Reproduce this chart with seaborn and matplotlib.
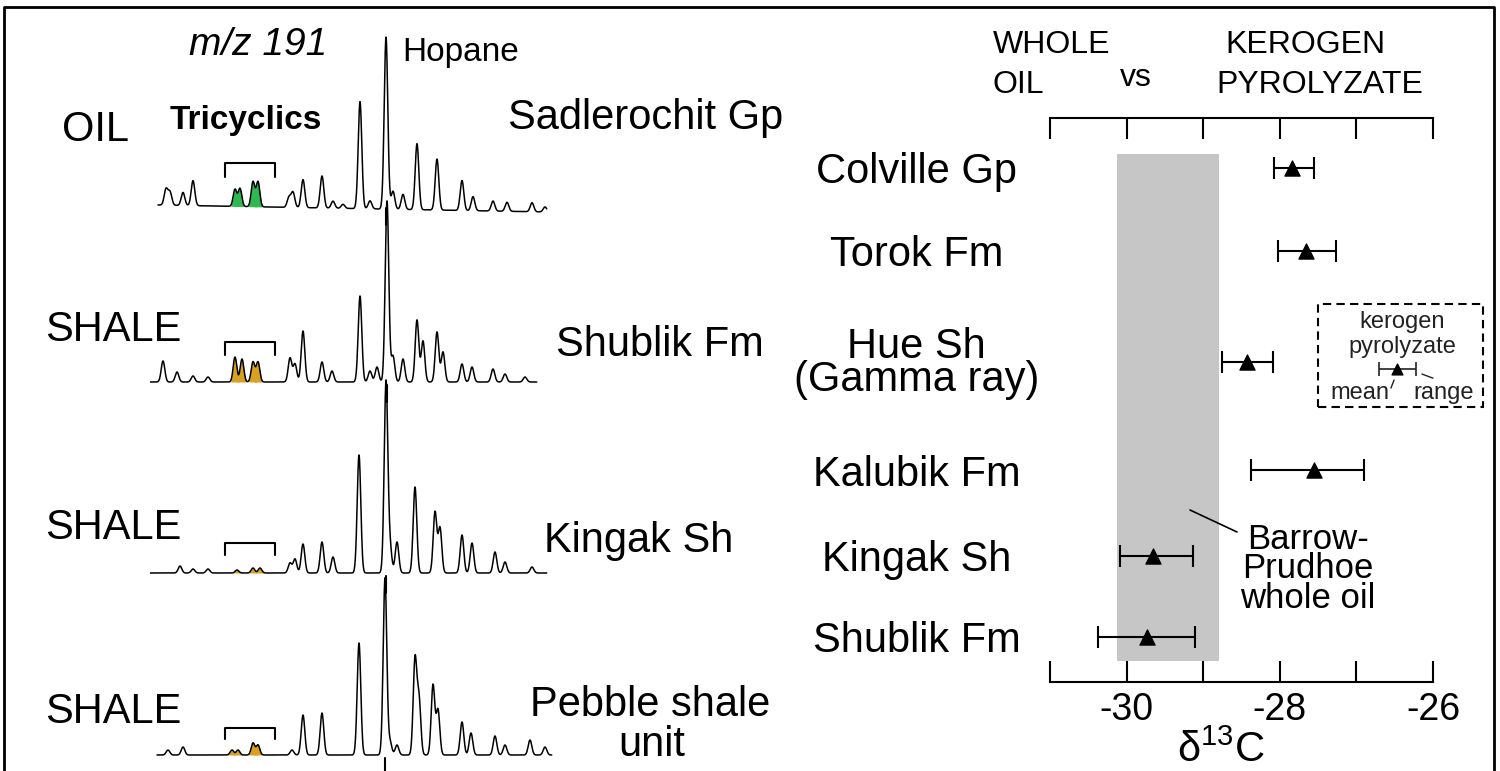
import numpy as np
import pandas as pd
import matplotlib
matplotlib.use("Agg")
import matplotlib.pyplot as plt
import seaborn as sns
from matplotlib.patches import Rectangle
from matplotlib.lines import Line2D

# m/z 191 traces: peak retention (arbitrary units) and height above baseline
oil_rt = [16, 20, 33, 43, 139, 143, 153, 172, 183, 193, 210, 220, 236, 243, 253, 267, 287, 312, 323, 343, 357, 382, 395]
oil_h = [16, 13, 13, 25, 10, 15, 28, 32, 7, 4, 107, 8, 172, 18, 15, 66, 51, 30, 14, 10, 9, 9, 5]
oil_tri_rt = [85, 90, 103, 108]
oil_tri_h = [17, 18, 25, 25]

shublik_rt = [13, 27, 43, 58, 140, 145, 153, 172, 182, 210, 220, 227, 237, 243, 253, 267, 273, 287, 293, 312, 322, 343, 355, 375]
shublik_h = [21, 10, 6, 5, 24, 18, 51, 20, 11, 86, 11, 15, 181, 26, 23, 62, 41, 50, 30, 18, 15, 13, 8, 5]
shublik_tri_rt = [85, 92, 103, 108]
shublik_tri_h = [25, 23, 20, 20]

kingak_rt = [30, 43, 58, 140, 145, 153, 172, 183, 209, 236, 240, 247, 265, 285, 290, 312, 322, 345, 355, 382]
kingak_h = [7, 4, 4, 10, 14, 29, 31, 16, 118, 191, 25, 31, 86, 61, 45, 38, 30, 21, 11, 6]
kingak_tri_rt = [87, 103, 110]
kingak_tri_h = [3, 5, 5]

pebble_rt = [18, 33, 142, 153, 172, 209, 235, 240, 247, 265, 269, 283, 288, 312, 321, 345, 355, 380, 395]
pebble_h = [5, 8, 5, 40, 42, 112, 177, 13, 10, 95, 55, 70, 45, 33, 22, 19, 10, 15, 8]
pebble_tri_rt = [82, 88, 103, 108]
pebble_tri_h = [5, 5, 12, 10]

# kerogen pyrolyzate d13C: mean and range
units = ["Colville Gp", "Torok Fm", "Hue Sh\n(Gamma ray)", "Kalubik Fm", "Kingak Sh", "Shublik Fm"]
d13c_mean = [-27.84, -27.66, -28.43, -27.56, -29.65, -29.74]
d13c_lo = [-28.08, -28.03, -28.76, -28.38, -30.09, -30.37]
d13c_hi = [-27.56, -27.27, -28.09, -26.90, -29.13, -29.11]
oil_band = (-30.13, -28.80)

W, H = 1500, 771

sns.set_theme(style="white")
plt.rcParams["font.family"] = ["Liberation Sans", "DejaVu Sans"]
plt.rcParams["mathtext.fontset"] = "custom"
plt.rcParams["mathtext.rm"] = "Liberation Sans"
plt.rcParams["mathtext.it"] = "Liberation Sans:italic"
for key in ["text.color", "axes.labelcolor", "xtick.color", "ytick.color"]:
    plt.rcParams[key] = "black"


def px_box(x0, y0, x1, y1):
    return [x0 / W, 1 - y1 / H, (x1 - x0) / W, (y1 - y0) / H]


def ftext(x, y, s, **kw):
    kw.setdefault("va", "center")
    kw.setdefault("color", "black")
    fig.text(x / W, 1 - y / H, s, **kw)


def trace(rt, h, start, end, drift=(0, 0), sigma=1.8):
    x = np.arange(start, end, 0.25)
    base = np.interp(x, [start, end], drift)
    y = base.copy()
    for p, a in zip(rt, h):
        y += a * np.exp(-0.5 * ((x - p) / sigma) ** 2)
    return x, y, base


fig = plt.figure(figsize=(15, 7.71), dpi=100)

# ---- left: chromatograms ----
traces = [
    (oil_rt, oil_h, oil_tri_rt, oil_tri_h, 205, 8, 397, (0, -7), "#2fb84f", 42, 28),
    (shublik_rt, shublik_h, shublik_tri_rt, shublik_tri_h, 382, 0, 387, (0, 0), "#d9a021", 40, 27),
    (kingak_rt, kingak_h, kingak_tri_rt, kingak_tri_h, 573, 0, 397, (0, 0), "#d9a021", 30, 18),
    (pebble_rt, pebble_h, pebble_tri_rt, pebble_tri_h, 755, 7, 402, (0, 0), "#d9a021", 27, 16),
]
for rt, h, trt, th, b, x0, x1, drift, col, br_top, br_end in traces:
    tax = fig.add_axes(px_box(150, b - 200, 560, b + 25))
    tax.set_xlim(0, 410)
    tax.set_ylim(-25, 200)
    tax.axis("off")
    tax.patch.set_alpha(0)
    x, y, base = trace(rt + trt, h + th, x0, x1, drift)
    for p in trt:
        m = (x > p - 4.5) & (x < p + 4.5)
        tax.fill_between(x[m], base[m], y[m], color=col, lw=0)
    df = pd.DataFrame({"rt": x, "signal": y})
    sns.lineplot(data=df, x="rt", y="signal", ax=tax, color="black", lw=1.1,
                 estimator=None, sort=False)
    # tricyclics bracket
    tax.plot([75, 75, 125, 125], [br_end, br_top, br_top, br_end], color="black", lw=1.5)
    # hopane marker below baseline
    hop = rt[int(np.argmax(h))]
    tax.plot([hop, hop], [-3, -20], color="black", lw=1.5, clip_on=False)
    tax.set_xlabel("")
    tax.set_ylabel("")

ftext(258, 45, "m/z 191", ha="center", fontsize=28, style="italic")
ftext(402, 53, "Hopane", ha="left", fontsize=24)
ftext(170, 120, "Tricyclics", ha="left", fontsize=24, weight="bold")
ftext(62, 130, "OIL", ha="left", fontsize=30)
ftext(646, 118, "Sadlerochit Gp", ha="center", fontsize=30)
ftext(45, 330, "SHALE", ha="left", fontsize=30)
ftext(660, 345, "Shublik Fm", ha="center", fontsize=30)
ftext(45, 528, "SHALE", ha="left", fontsize=30)
ftext(639, 541, "Kingak Sh", ha="center", fontsize=30)
ftext(45, 712, "SHALE", ha="left", fontsize=30)
ftext(650, 705, "Pebble shale", ha="center", fontsize=30)
ftext(652, 745, "unit", ha="center", fontsize=30)

# ---- right: d13C comparison ----
row_y = [168, 251, 362, 470, 556, 637]
ax = fig.add_axes(px_box(1050, 118, 1433, 682))
ax.patch.set_alpha(0)
ax.set_xlim(-31, -26)
ax.set_ylim(682, 118)
ax.axvspan(oil_band[0], oil_band[1], ymin=(682 - 661) / 564, ymax=(682 - 154) / 564,
           color="#c6c6c6", lw=0, zorder=0)
mean = np.array(d13c_mean)
ax.errorbar(mean, row_y, xerr=[mean - np.array(d13c_lo), np.array(d13c_hi) - mean],
            fmt="none", ecolor="black", elinewidth=1.5, capsize=8, capthick=1.5, zorder=2)
sns.scatterplot(x=mean, y=row_y, ax=ax, marker="^", s=120, color="black",
                edgecolor="black", zorder=3)
ax.set_xticks([-31, -30, -29, -28, -27, -26])
ax.set_xticklabels(["", "-30", "", "-28", "", "-26"])
ax.tick_params(axis="x", direction="in", length=15, width=1.5, top=True, bottom=True,
               labeltop=False, labelsize=27, pad=7, color="black", labelcolor="black")
ax.set_yticks(row_y)
ax.set_yticklabels(units, ha="center", multialignment="center", linespacing=0.8)
ax.tick_params(axis="y", length=0, pad=96, labelsize=30, labelcolor="black")
for side in ["left", "right"]:
    ax.spines[side].set_visible(False)
for side in ["top", "bottom"]:
    ax.spines[side].set_color("black")
    ax.spines[side].set_linewidth(1.5)
ax.set_xlabel(r"δ$^{13}$C", fontsize=30, color="black")
ax.xaxis.set_label_coords((1221 - 1050) / 383, (682 - 731) / 564)
ax.xaxis.label.set_va("top")
ax.set_ylabel("")

fig.add_artist(Line2D([1190 / W, 1237 / W], [1 - 510 / H, 1 - 532 / H], color="black", lw=1.2))
ftext(1308, 569, "Barrow-\nPrudhoe\nwhole oil", ha="center", fontsize=25,
      multialignment="center", linespacing=0.85)

ftext(993, 45, "WHOLE", ha="left", fontsize=23)
ftext(993, 85, "OIL", ha="left", fontsize=23)
ftext(1136, 78, "vs", ha="center", fontsize=23)
ftext(1305, 45, "KEROGEN", ha="center", fontsize=23)
ftext(1320, 85, "PYROLYZATE", ha="center", fontsize=23)

# legend box
lax = fig.add_axes(px_box(1318, 304, 1483, 407))
lax.set_xlim(0, 1)
lax.set_ylim(0, 1)
lax.axis("off")
lax.add_patch(Rectangle((0, 0), 1, 1, fill=False, ls=(0, (4, 2.5)), lw=1.5,
                        ec="black", transform=lax.transAxes, clip_on=False))
lax.errorbar([0.479], [0.37], xerr=[[0.109], [0.115]], fmt="none", ecolor="#222222",
             elinewidth=1.2, capsize=5, capthick=1.2)
lax.scatter([0.479], [0.37], marker="^", s=60, color="black", zorder=3)
lax.text(0.51, 0.825, "kerogen", ha="center", va="center", fontsize=17, color="#222222")
lax.text(0.51, 0.58, "pyrolyzate", ha="center", va="center", fontsize=17, color="#222222")
lax.text(0.252, 0.136, "mean", ha="center", va="center", fontsize=17, color="#222222")
lax.text(0.764, 0.136, "range", ha="center", va="center", fontsize=17, color="#222222")
lax.plot([0.442, 0.461], [0.184, 0.262], color="#222222", lw=1)
lax.plot([0.63, 0.697], [0.32, 0.28], color="#222222", lw=1)

# outer frame (open at the bottom)
fig.add_artist(Line2D([4 / W, 4 / W, 1494 / W, 1494 / W], [-0.05, 1 - 7 / H, 1 - 7 / H, -0.05],
                      color="black", lw=2))

fig.savefig("out.png", dpi=100)
